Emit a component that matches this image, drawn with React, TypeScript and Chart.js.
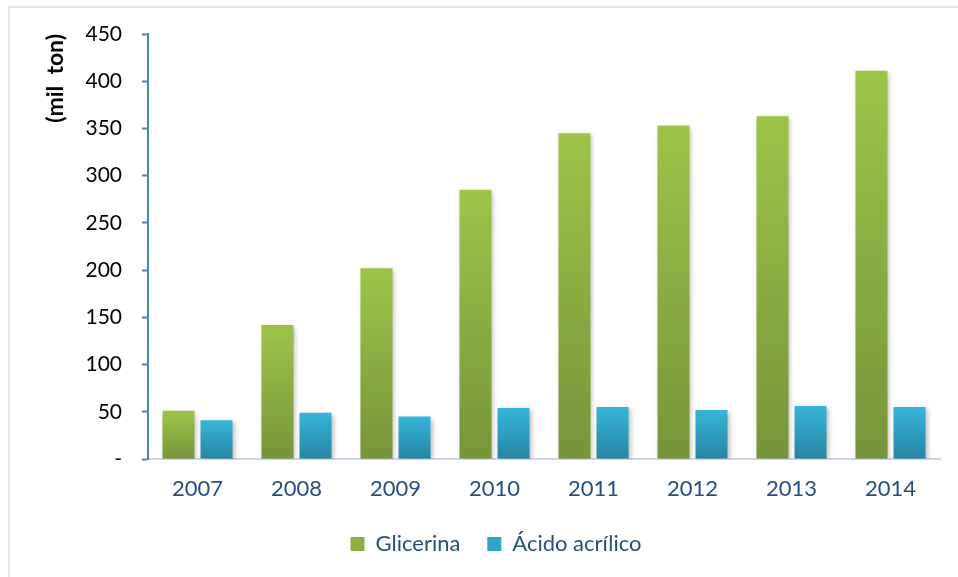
import React, { useEffect, useRef } from "react";
import { Chart, registerables } from "chart.js";

Chart.register(...registerables);

const years = ["2007", "2008", "2009", "2010", "2011", "2012", "2013", "2014"];
const glicerina = [51, 142, 202, 285, 345, 353, 363, 411];
const acidoAcrilico = [41, 49, 45, 54, 55, 52, 56, 55];
const seriesNames = ["Glicerina", "Ácido acrílico"];
const yTickLabels: Record<number, string> = { 0: "-", 50: "50", 100: "100", 150: "150", 200: "200", 250: "250", 300: "300", 350: "350", 400: "400", 450: "450" };

const FONT = "Lato, 'Open Sans', sans-serif";

function barGradient(ctx: any, top: string, bottom: string) {
  const chart = ctx.chart;
  const y = chart.scales?.y;
  if (!y || ctx.type !== "data") return top;
  const v = ctx.raw as number;
  const y0 = y.getPixelForValue(v);
  const y1 = y.getPixelForValue(0);
  if (!isFinite(y0) || !isFinite(y1) || y0 === y1) return top;
  const g = chart.ctx.createLinearGradient(0, y0, 0, y1);
  g.addColorStop(0, top);
  g.addColorStop(1, bottom);
  return g;
}

const shadowPlugin = {
  id: "barShadow",
  beforeDatasetsDraw(chart: any) {
    const c = chart.ctx;
    c.save();
    c.shadowColor = "rgba(0,0,0,0.28)";
    c.shadowBlur = 5;
    c.shadowOffsetX = 2;
    c.shadowOffsetY = 2;
  },
  afterDatasetsDraw(chart: any) {
    chart.ctx.restore();
  },
};

const legendShiftPlugin = {
  id: "legendShift",
  afterLayout(chart: any) {
    const lg = chart.legend;
    if (lg) {
      lg.left += 26;
      lg.right += 26;
    }
  },
};

export default function App() {
  const ref = useRef<HTMLCanvasElement | null>(null);
  useEffect(() => {
    if (!ref.current) return;
    const chart = new Chart(ref.current, {
      type: "bar",
      data: {
        labels: years,
        datasets: [
          {
            label: seriesNames[0],
            data: glicerina,
            backgroundColor: (c: any) => barGradient(c, "#9dc449", "#76953a"),
            borderWidth: 0,
          },
          {
            label: seriesNames[1],
            data: acidoAcrilico,
            backgroundColor: (c: any) => barGradient(c, "#36b5da", "#2685a2"),
            borderWidth: 0,
          },
        ],
      },
      plugins: [shadowPlugin, legendShiftPlugin],
      options: {
        animation: false,
        responsive: false,
        maintainAspectRatio: false,
        layout: { padding: { top: 34, right: 18, left: 0, bottom: 12 } },
        datasets: {
          bar: { categoryPercentage: 0.768, barPercentage: 0.842 },
        },
        plugins: {
          tooltip: { enabled: false },
          legend: {
            position: "bottom",
            labels: {
              font: { family: FONT, size: 22 },
              color: "#264f80",
              boxWidth: 14,
              boxHeight: 14,
              padding: 10,
              generateLabels: (ch: any) =>
                ch.data.datasets.map((ds: any, i: number) => {
                  const c1 = i === 0 ? "#8db043" : "#30a3c6";
                  return {
                    text: i === 0 ? ds.label + "   " : ds.label,
                    fillStyle: c1,
                    strokeStyle: c1,
                    lineWidth: 0,
                    hidden: false,
                    datasetIndex: i,
                    fontColor: "#264f80",
                  };
                }),
            },
          },
        },
        scales: {
          x: {
            grid: { display: false, drawTicks: false },
            border: { display: true, color: "#c9d8ec", width: 2 },
            ticks: { font: { family: FONT, size: 22 }, color: "#264f80", padding: 17 },
            afterFit: (s: any) => { s.height = 64; },
          },
          y: {
            min: 0,
            max: 450,
            grid: { drawOnChartArea: false, drawTicks: true, tickLength: 6, tickColor: "#4f81bd", tickWidth: 2 },
            border: { display: true, color: "#4f81bd", width: 2 },
            ticks: {
              stepSize: 50,
              font: { family: FONT, size: 21 },
              color: "#000000",
              padding: 20,
              callback: (v: any) => yTickLabels[v as number] ?? String(v),
            },
            title: {
              display: true,
              text: "(mil  ton)",
              align: "end",
              font: { family: FONT, size: 23, weight: "bold" },
              color: "#000000",
              padding: { top: 42, bottom: 0 },
            },
            afterFit: (s: any) => { s.width = 148; },
          },
        },
      } as any,
    });
    return () => chart.destroy();
  }, []);
  return (
    <div style={{ position: "fixed", left: 0, top: 0, width: 958, height: 577, background: "#fff" }}>
      <div
        style={{
          position: "absolute",
          left: 8,
          top: 6,
          width: 960,
          height: 580,
          borderLeft: "2px solid #dde7f3",
          borderTop: "2px solid #dde7f3",
        }}
      />
      <canvas ref={ref} width={958} height={577} style={{ position: "absolute", left: 0, top: 0 }} />
    </div>
  );
}
